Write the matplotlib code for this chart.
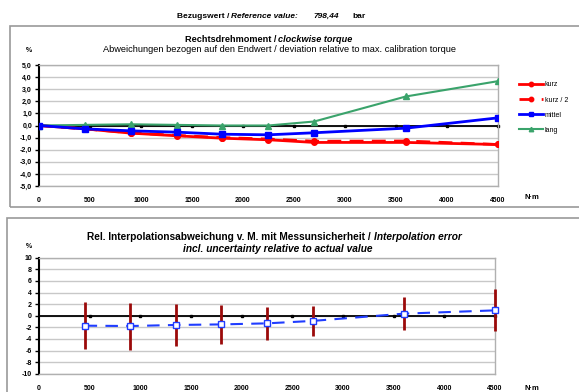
import matplotlib
matplotlib.use("Agg")
import matplotlib.pyplot as plt
from matplotlib.patches import Rectangle

plt.rcParams['font.family'] = ['Liberation Sans', 'DejaVu Sans']

# Messpunkte (N·m)
steps = [0, 450, 900, 1350, 1800, 2250, 2700, 3600, 4500]
kurz = [0.0, -0.28, -0.63, -0.85, -1.05, -1.18, -1.40, -1.40, -1.57]
kurz_2 = [0.0, -0.28, -0.60, -0.82, -1.00, -1.12, -1.30, -1.28, -1.57]
mittel = [0.0, -0.28, -0.44, -0.55, -0.72, -0.77, -0.60, -0.22, 0.63]
lang = [0.0, 0.05, 0.10, 0.05, 0.0, 0.0, 0.33, 2.40, 3.66]

# Interpolationsabweichung mit Messunsicherheit
steps_int = [450, 900, 1350, 1800, 2250, 2700, 3600, 4500]
interp = [-1.72, -1.78, -1.60, -1.50, -1.32, -0.90, 0.35, 0.92]
unsich = [4.0, 4.05, 3.6, 3.3, 2.9, 2.65, 2.8, 3.6]

ticks_x = [0, 500, 1000, 1500, 2000, 2500, 3000, 3500, 4000, 4500]
zero_marks = [500, 1000, 1500, 2000, 2500, 3000, 3500, 4000, 4500]

W, H = 579, 392
fig = plt.figure(figsize=(W / 100, H / 100), dpi=100)


def px_rect(l, t, r, b):
    return [l / W, 1 - b / H, (r - l) / W, (b - t) / H]


def txt(x, y, s, **kw):
    kw.setdefault('va', 'center')
    return fig.text(x / W, 1 - y / H, s, **kw)


def style_axes(ax, ylim, yticks, ylabels):
    ax.set_xlim(0, 4500)
    ax.set_ylim(*ylim)
    ax.set_yticks(yticks)
    ax.set_yticklabels(ylabels, fontsize=5, fontweight='bold')
    ax.set_xticks(ticks_x)
    ax.set_xticklabels([str(t) for t in ticks_x], fontsize=5, fontweight='bold')
    ax.tick_params(axis='x', length=0, pad=8)
    ax.tick_params(axis='y', length=3, width=1, direction='out', pad=2)
    ax.yaxis.grid(True, color='#c8c8c8', lw=1)
    ax.set_axisbelow(True)
    for s in ['top', 'right', 'bottom']:
        ax.spines[s].set_color('#b0b0b0')
        ax.spines[s].set_linewidth(1)
    ax.spines['left'].set_color('black')
    ax.spines['left'].set_linewidth(1.5)
    # Nulllinie mit kleinen Marken alle 500 N·m
    ax.plot([0, 4500], [0, 0], color='black', lw=1.3, zorder=2)
    ax.plot(zero_marks, [0] * len(zero_marks), ls='none', color='black',
            marker='s', ms=1.8, zorder=2, clip_on=False)


# Rahmen
fig.patches.append(Rectangle((10 / W, 1 - 207 / H), 600 / W, 181 / H,
                             transform=fig.transFigure, fill=False,
                             ec='#999999', lw=1.2))
fig.patches.append(Rectangle((7 / W, 1 - 420 / H), 600 / W, 202 / H,
                             transform=fig.transFigure, fill=False,
                             ec='#999999', lw=1.2))

# Kopfzeile
txt(177, 16, 'Bezugswert / ', fontsize=6, fontweight='bold', ha='left')
txt(298, 16, 'Reference value:', fontsize=6, fontweight='bold',
    style='italic', ha='right')
txt(313, 16, '798,44', fontsize=6, fontweight='bold', style='italic', ha='left')
txt(352, 16, 'bar', fontsize=6, fontweight='bold', ha='left')

# oberes Diagramm
ax1 = fig.add_axes(px_rect(39, 65, 497.7, 186))
yt1 = [5, 4, 3, 2, 1, 0, -1, -2, -3, -4, -5]
style_axes(ax1, (-5, 5), yt1, [f'{v:.1f}'.replace('.', ',') for v in yt1])
ax1.plot(steps, kurz, color='#ff0000', lw=2, marker='o', ms=4, label='kurz', zorder=3)
ax1.plot(steps, kurz_2, color='#ff0000', lw=2, ls=(0, (5, 3)), marker='o', ms=4,
         label='kurz / 2', zorder=3)
ax1.plot(steps, mittel, color='#0000ff', lw=2, marker='s', ms=4, label='mittel', zorder=4)
ax1.plot(steps, lang, color='#3aa36b', lw=1.5, marker='^', ms=4, label='lang', zorder=3)
ax1.legend(loc='upper left', bbox_to_anchor=(518 / W, 1 - 80 / H),
           bbox_transform=fig.transFigure, frameon=False, fontsize=5,
           handlelength=3.4, labelspacing=1.17, handletextpad=0.25,
           borderaxespad=0, borderpad=0.2, markerscale=0.8)

txt(278.5, 39, 'Rechtsdrehmoment / ', fontsize=6.6, fontweight='bold', ha='right')
txt(278.5, 39, 'clockwise torque', fontsize=6.6, fontweight='bold',
    style='italic', ha='left')
txt(279.5, 50,
    'Abweichungen bezogen auf den Endwert / deviation relative to max. calibration torque',
    fontsize=6.7, ha='center')
txt(29, 50, '%', fontsize=5, fontweight='bold', ha='center')
txt(532, 198, 'N·m', fontsize=5.5, fontweight='bold', ha='center')

# unteres Diagramm
ax2 = fig.add_axes(px_rect(39, 257.7, 495, 373.7))
yt2 = list(range(10, -11, -2))
style_axes(ax2, (-10, 10), yt2, [str(v) for v in yt2])
lo = [v - u for v, u in zip(interp, unsich)]
hi = [v + u for v, u in zip(interp, unsich)]
ax2.vlines(steps_int, lo, hi, color='#9b0a0a', lw=2, zorder=3, clip_on=False)
ax2.plot(steps_int, interp, color='#1f3cff', lw=1.5, ls=(0, (6, 4)), marker='s',
         ms=4, mfc='white', mec='#1f3cff', mew=1, zorder=4, clip_on=False)

txt(374, 237, 'Rel. Interpolationsabweichung v. M. mit Messunsicherheit / ',
    fontsize=7.3, fontweight='bold', ha='right')
txt(374, 237, 'Interpolation error', fontsize=7.3, fontweight='bold',
    style='italic', ha='left')
txt(278, 249, 'incl. uncertainty relative to actual value',
    fontsize=7.3, fontweight='bold', style='italic', ha='center')
txt(29, 247, '%', fontsize=5, fontweight='bold', ha='center')
txt(532, 388, 'N·m', fontsize=5.5, fontweight='bold', ha='center')

fig.savefig('out.png', dpi=100)
